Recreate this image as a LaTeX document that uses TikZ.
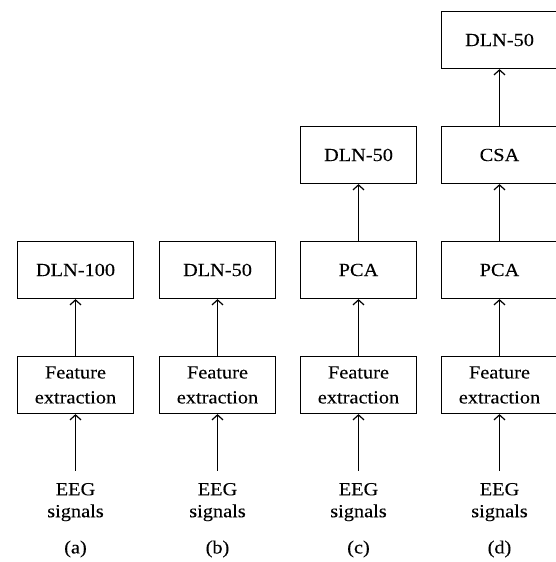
\documentclass[tikz,border=0pt]{standalone}
\usepackage{fontspec}
\setmainfont[FakeStretch=1.1,FakeBold=0.15]{Liberation Serif}
\usetikzlibrary{arrows.meta}
\begin{document}
\begin{tikzpicture}[x=1pt,y=1pt,
 box/.style={draw, line width=1.2pt, minimum width=116pt, minimum height=57pt, inner sep=0pt, align=center, font=\fontsize{18.5}{25}\selectfont},
 src/.style={inner xsep=0pt, inner ysep=0pt, outer ysep=12pt, anchor=north, align=center, font=\fontsize{18.5}{22}\selectfont},
 lab/.style={font=\fontsize{18.5}{21}\selectfont, inner sep=0pt},
 arr/.style={-{Straight Barb[length=5pt,width=11pt]}, line width=1.2pt}]
\useasboundingbox (0,0) rectangle (555,562);
% column (a)
\node[box] (fa) at (75.5,177) {Feature\\extraction};
\node[box] (da) at (75.5,292) {DLN-100};
\node[src] (ea) at (75.5,91) {EEG\\signals};
\node[lab] (la) at (75.5,13) {(a)};
\draw[arr] (ea) -- (fa);
\draw[arr] (fa) -- (da);
% column (b)
\node[box] (fb) at (217.5,177) {Feature\\extraction};
\node[box] (db) at (217.5,292) {DLN-50};
\node[src] (eb) at (217.5,91) {EEG\\signals};
\node[lab] (lb) at (217.5,13) {(b)};
\draw[arr] (eb) -- (fb);
\draw[arr] (fb) -- (db);
% column (c)
\node[box] (fc) at (358.5,177) {Feature\\extraction};
\node[box] (pc) at (358.5,292) {PCA};
\node[box] (dc) at (358.5,407) {DLN-50};
\node[src] (ec) at (358.5,91) {EEG\\signals};
\node[lab] (lc) at (358.5,13) {(c)};
\draw[arr] (ec) -- (fc);
\draw[arr] (fc) -- (pc);
\draw[arr] (pc) -- (dc);
% column (d)
\node[box] (fd) at (499.5,177) {Feature\\extraction};
\node[box] (pd) at (499.5,292) {PCA};
\node[box] (cd) at (499.5,407) {CSA};
\node[box] (dd) at (499.5,522) {DLN-50};
\node[src] (ed) at (499.5,91) {EEG\\signals};
\node[lab] (ld) at (499.5,13) {(d)};
\draw[arr] (ed) -- (fd);
\draw[arr] (fd) -- (pd);
\draw[arr] (pd) -- (cd);
\draw[arr] (cd) -- (dd);
\end{tikzpicture}
\end{document}
